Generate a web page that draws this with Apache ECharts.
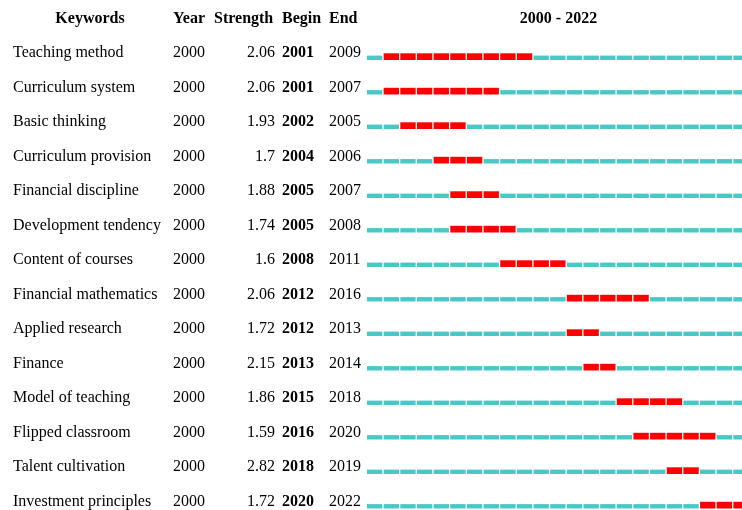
<!DOCTYPE html>
<html>
<head>
<meta charset="utf-8">
<script src="https://cdn.jsdelivr.net/npm/echarts@6/dist/echarts.min.js"></script>
<style>
  html, body { margin: 0; padding: 0; background: #fff; }
  #main { width: 742px; height: 510px; }
</style>
</head>
<body>
<div id="main"></div>
<script>
// burst table data
var keywords = ['Teaching method', 'Curriculum system', 'Basic thinking', 'Curriculum provision',
  'Financial discipline', 'Development tendency', 'Content of courses', 'Financial mathematics',
  'Applied research', 'Finance', 'Model of teaching', 'Flipped classroom', 'Talent cultivation',
  'Investment principles'];
var years = [2000, 2000, 2000, 2000, 2000, 2000, 2000, 2000, 2000, 2000, 2000, 2000, 2000, 2000];
var strength = ['2.06', '2.06', '1.93', '1.7', '1.88', '1.74', '1.6', '2.06', '1.72', '2.15', '1.86', '1.59', '2.82', '1.72'];
var begin = [2001, 2001, 2002, 2004, 2005, 2005, 2008, 2012, 2012, 2013, 2015, 2016, 2018, 2020];
var end = [2009, 2007, 2005, 2006, 2007, 2008, 2011, 2016, 2013, 2014, 2018, 2020, 2019, 2022];
var firstYear = 2000;
var lastYear = 2022;

var font = '"Liberation Serif", "Times New Roman", serif';

// one segment per keyword per year, flagged if inside the burst
var segments = [];
keywords.forEach(function (k, i) {
  for (var y = firstYear; y <= lastYear; y++) {
    segments.push([y, i, (y >= begin[i] && y <= end[i]) ? 1 : 0]);
  }
});

var rows = keywords.map(function (k, i) { return [firstYear, i]; });

function renderSegment (params, api) {
  var year = api.value(0);
  var row = api.value(1);
  var hot = api.value(2);
  var p0 = api.coord([year, row]);
  var p1 = api.coord([year + 1, row]);
  var cy = p0[1];
  var top = hot ? cy + 1.7 : cy + 4;
  return {
    type: 'rect',
    shape: { x: p0[0], y: top, width: p1[0] - p0[0] - 1.3, height: cy + 8.4 - top },
    style: { fill: hot ? '#ff0000' : '#4ac8c8' }
  };
}

function txt (x, y, text, align, bold) {
  return {
    type: 'text',
    x: x,
    y: y + 1.5,
    style: {
      text: text,
      fill: '#000',
      font: (bold ? 'bold ' : '') + '16px ' + font,
      align: align,
      verticalAlign: 'middle'
    }
  };
}

function renderRow (params, api) {
  var i = api.value(1);
  var cy = api.coord([firstYear, i])[1];
  return {
    type: 'group',
    children: [
      txt(13, cy, keywords[i], 'left', false),
      txt(173, cy, String(years[i]), 'left', false),
      txt(275, cy, strength[i], 'right', false),
      txt(282, cy, String(begin[i]), 'left', true),
      txt(329, cy, String(end[i]), 'left', false)
    ]
  };
}

var myChart = echarts.init(document.getElementById('main'));
myChart.setOption({
  animation: false,
  backgroundColor: '#fff',
  grid: {
    left: 367,
    top: 34.35,
    width: 383,
    height: 483,
    outerBoundsMode: 'none'
  },
  xAxis: {
    type: 'value',
    min: firstYear,
    max: lastYear + 1,
    show: false
  },
  yAxis: {
    type: 'category',
    inverse: true,
    data: keywords,
    show: false
  },
  graphic: [
    txt(90, 17, 'Keywords', 'center', true),
    txt(173, 17, 'Year', 'left', true),
    txt(214, 17, 'Strength', 'left', true),
    txt(282, 17, 'Begin', 'left', true),
    txt(329, 17, 'End', 'left', true),
    txt(558.5, 17, firstYear + ' - ' + lastYear, 'center', true)
  ],
  series: [
    {
      type: 'custom',
      clip: false,
      renderItem: renderSegment,
      data: segments
    },
    {
      type: 'custom',
      clip: false,
      renderItem: renderRow,
      data: rows
    }
  ]
});
</script>
</body>
</html>
